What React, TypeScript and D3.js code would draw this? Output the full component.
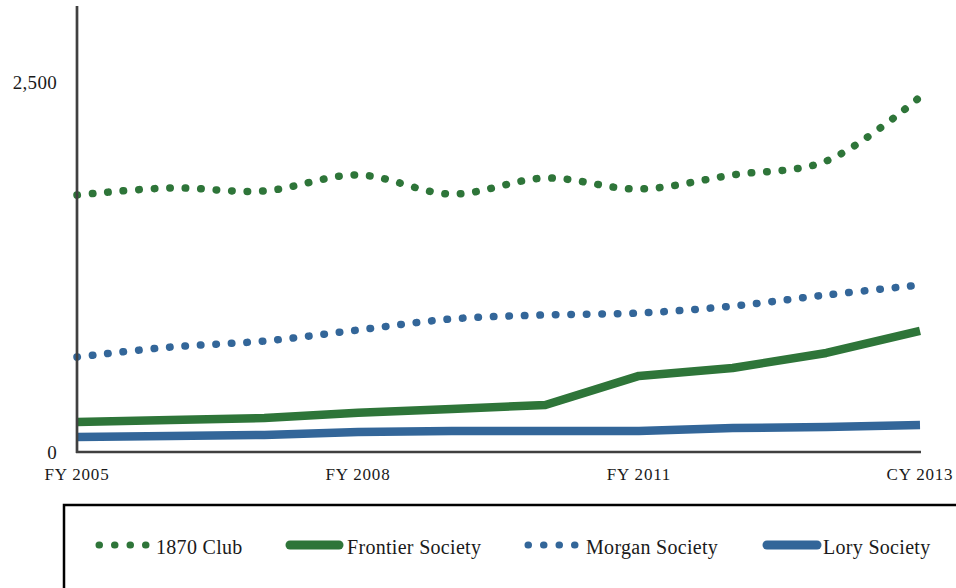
import React from "react";
import * as d3 from "d3";

const categories = ["FY 2005", "FY 2006", "FY 2007", "FY 2008", "FY 2009", "FY 2010", "FY 2011", "FY 2012", "FY 2013", "CY 2013"];
const tickLabels = ["FY 2005", "FY 2008", "FY 2011", "CY 2013"];
const yTicks = [0, 2500];

const club1870 = [1736, 1784, 1764, 1872, 1743, 1851, 1777, 1872, 1966, 2399];
const morgan = [642, 709, 750, 824, 899, 926, 939, 986, 1061, 1128];
const frontier = [203, 216, 230, 265, 291, 318, 514, 568, 669, 818];
const lory = [101, 108, 115, 135, 142, 142, 142, 162, 169, 182];

const GREEN = "#2E7539";
const BLUE = "#336699";
const FONT = "'Liberation Serif', 'Times New Roman', serif";

type S = { name: string; values: number[]; color: string; dotted: boolean };
const seriesList: S[] = [
  { name: "1870 Club", values: club1870, color: GREEN, dotted: true },
  { name: "Frontier Society", values: frontier, color: GREEN, dotted: false },
  { name: "Morgan Society", values: morgan, color: BLUE, dotted: true },
  { name: "Lory Society", values: lory, color: BLUE, dotted: false },
];

export default function App() {
  const x = d3.scalePoint<string>().domain(categories).range([77, 920]);
  const y = d3.scaleLinear().domain([0, 3000]).range([452, 8]);

  const smooth = d3
    .line<number>()
    .x((_, i) => x(categories[i]) as number)
    .y((d) => y(d))
    .curve(d3.curveCatmullRom.alpha(0.5));
  const straight = d3
    .line<number>()
    .x((_, i) => x(categories[i]) as number)
    .y((d) => y(d));

  const legendPos = [
    { sx0: 99, sx1: 146, tx: 156 },
    { sx0: 290, sx1: 339, tx: 347 },
    { sx0: 528, sx1: 575, tx: 586 },
    { sx0: 767, sx1: 817, tx: 823 },
  ];

  return (
    <svg
      width={956}
      height={588}
      style={{ position: "absolute", left: 0, top: 0, background: "#fff" }}
      fontFamily={FONT}
    >
      {seriesList.map((s) =>
        s.dotted ? (
          <path
            key={s.name}
            d={smooth(s.values) || ""}
            fill="none"
            stroke={s.color}
            strokeWidth={7.5}
            strokeLinecap="round"
            strokeDasharray="0.5 15"
          />
        ) : (
          <path
            key={s.name}
            d={straight(s.values) || ""}
            fill="none"
            stroke={s.color}
            strokeWidth={8.5}
            strokeLinejoin="round"
          />
        )
      )}

      {/* axes */}
      <line x1={77} x2={77} y1={y(3000) - 2} y2={y(0) + 1} stroke="#404040" strokeWidth={2.7} />
      <line x1={76} x2={x("CY 2013")! + 1} y1={y(0)} y2={y(0)} stroke="#404040" strokeWidth={2.4} />

      {yTicks.map((t) => (
        <text
          key={t}
          x={57}
          y={y(t) + 7}
          textAnchor="end"
          fontSize={19}
          letterSpacing={0.3}
          fill="#1a1a1a"
        >
          {d3.format(",")(t)}
        </text>
      ))}

      {tickLabels.map((c) => (
        <text
          key={c}
          x={x(c)!}
          y={480}
          textAnchor="middle"
          fontSize={17}
          letterSpacing={0.8}
          fill="#1a1a1a"
        >
          {c}
        </text>
      ))}

      {/* legend */}
      <rect x={64} y={505} width={920} height={120} fill="none" stroke="#000" strokeWidth={2.5} />
      {seriesList.map((s, i) => {
        const p = legendPos[i];
        return (
          <g key={s.name}>
            {s.dotted ? (
              <line
                x1={p.sx0}
                x2={p.sx1}
                y1={545}
                y2={545}
                stroke={s.color}
                strokeWidth={7}
                strokeLinecap="round"
                strokeDasharray="0.5 15"
              />
            ) : (
              <line
                x1={p.sx0}
                x2={p.sx1}
                y1={545}
                y2={545}
                stroke={s.color}
                strokeWidth={9}
                strokeLinecap="round"
              />
            )}
            <text x={p.tx} y={554} fontSize={20} letterSpacing={0.3} fill="#1a1a1a">
              {s.name}
            </text>
          </g>
        );
      })}
    </svg>
  );
}
